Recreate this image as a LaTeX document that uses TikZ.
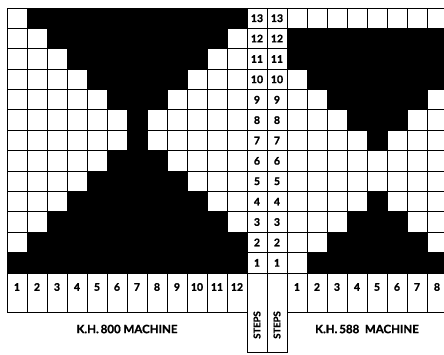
\documentclass[tikz,border=0pt]{standalone}
\usepackage{fontspec}
\setmainfont{Lato}[BoldFeatures={FakeBold=1.2}]
\begin{document}
\begin{tikzpicture}[x=1pt,y=-1pt,
  gridline/.style={line width=1pt, black},
  cellfill/.style={fill=black},
  num/.style={font=\bfseries\fontsize{10.5}{10.5}\selectfont, inner sep=0pt, anchor=center},
  steplabel/.style={font=\bfseries\fontsize{9.5}{9.5}\selectfont, inner sep=0pt, rotate=90},
  machine/.style={font=\bfseries\fontsize{11.5}{11.5}\selectfont, inner sep=0pt}]
\useasboundingbox (0,0) rectangle (444,354);
\clip (0,0) rectangle (444,354);
\fill[white] (0,0) rectangle (444,354);
\def\rh{20.3846}
% ---------- left grid (K.H. 800) black cells ----------
\foreach \r/\a/\b in {13/2/12,12/3/11,11/4/10,10/5/9,9/6/8,8/7/7,7/7/7,6/6/8,5/5/9,4/4/10,3/3/11,2/2/12,1/1/12}
  \fill[cellfill] ({7+(\a-1)*20},{273-\r*\rh}) rectangle ({7+\b*20},{273-(\r-1)*\rh});
% ---------- right grid (K.H. 588) black cells ----------
\foreach \r/\a/\b in {12/1/8,11/1/8,10/2/8,9/3/7,8/4/6,7/5/5,4/5/5,3/4/6,2/3/7,1/2/8}
  \fill[cellfill] ({287+(\a-1)*20},{273-\r*\rh}) rectangle ({287+\b*20},{273-(\r-1)*\rh});
% ---------- grid lines ----------
\foreach \i in {0,...,12} \draw[gridline] ({7+\i*20},8) -- ({7+\i*20},312);
\foreach \i in {0,...,8} \draw[gridline] ({287+\i*20},8) -- ({287+\i*20},312);
\foreach \r in {0,...,13} {
  \draw[gridline] (7,{273-\r*\rh}) -- (247,{273-\r*\rh});
  \draw[gridline] (247,{273-\r*\rh}) -- (287,{273-\r*\rh});
  \draw[gridline] (287,{273-\r*\rh}) -- (447,{273-\r*\rh});
}
\draw[gridline] (7,312) -- (247,312);
\draw[gridline] (287,312) -- (447,312);
\foreach \x in {247,267,287} \draw[gridline] (\x,8) -- (\x,352.5);
\draw[gridline] (247,352.5) -- (287,352.5);
% ---------- numbers ----------
\foreach \i in {1,...,12} \node[num] (l\i) at ({-3+\i*20},287) {\i};
\foreach \i in {1,...,8} \node[num] (r\i) at ({277+\i*20},287) {\i};
\foreach \r in {1,...,13} {
  \node[num] (sa\r) at (257,{273-(\r-0.5)*\rh}) {\r};
  \node[num] (sb\r) at (277,{273-(\r-0.5)*\rh}) {\r};
}
\node[steplabel] (stepsA) at (257,325) {STEPS};
\node[steplabel] (stepsB) at (277,325) {STEPS};
\node[machine] (kh800) at (127,329) {K.H.\,800 MACHINE};
\node[machine] (kh588) at (367,329) {K.H.\,588\ \ MACHINE};
\end{tikzpicture}
\end{document}
